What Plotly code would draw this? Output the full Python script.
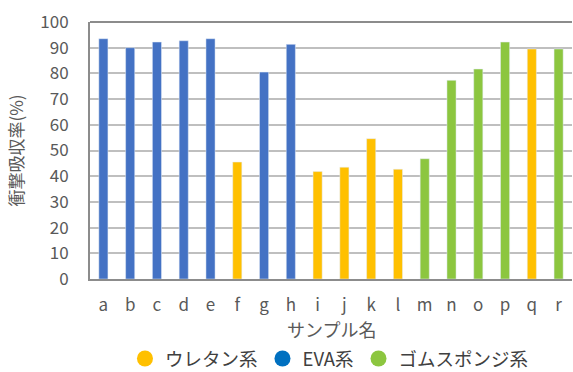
import plotly.graph_objects as go

samples = list("abcdefghijklmnopqr")
absorption = [93.5, 90.0, 92.2, 92.7, 93.5, 45.5, 80.5, 91.3, 41.8, 43.5,
              54.6, 42.7, 46.8, 77.3, 81.7, 92.2, 89.5, 89.5]
groups = ["EVA系", "EVA系", "EVA系", "EVA系", "EVA系", "ウレタン系", "EVA系", "EVA系",
          "ウレタン系", "ウレタン系", "ウレタン系", "ウレタン系", "ゴムスポンジ系",
          "ゴムスポンジ系", "ゴムスポンジ系", "ゴムスポンジ系", "ウレタン系", "ゴムスポンジ系"]
legend_order = ["ウレタン系", "EVA系", "ゴムスポンジ系"]
bar_colors = {"ウレタン系": "#FFC000", "EVA系": "#4472C4", "ゴムスポンジ系": "#8CC63F"}
legend_colors = {"ウレタン系": "#FFC000", "EVA系": "#0070C0", "ゴムスポンジ系": "#8CC63F"}
x_title = "サンプル名"
y_title = "衝撃吸収率(%)"

FONT = "Noto Sans CJK JP"
GRAY = "#595959"

fig = go.Figure()
for g in legend_order:
    xs = [s for s, gg in zip(samples, groups) if gg == g]
    ys = [v for v, gg in zip(absorption, groups) if gg == g]
    fig.add_trace(go.Bar(x=xs, y=ys, name=g, marker_color=bar_colors[g],
                         width=0.34, showlegend=False))
    # legend entry with a round marker
    fig.add_trace(go.Scatter(x=[None], y=[None], mode="markers", name=g,
                             marker=dict(symbol="circle", size=16, color=legend_colors[g])))

fig.update_layout(
    width=573, height=372,
    margin=dict(l=90, r=1, t=22, b=93),
    paper_bgcolor="white", plot_bgcolor="white",
    barmode="overlay",
    font=dict(family=FONT, color=GRAY, size=17),
    legend=dict(orientation="h", x=0.575, xref="container", xanchor="center",
                y=0.035, yref="container", yanchor="middle",
                font=dict(size=18.5, color="#404040"), itemwidth=30,
                traceorder="normal"),
    xaxis=dict(type="category", categoryorder="array", categoryarray=samples,
               showline=True, linecolor="#8c8c8c", linewidth=2, mirror=False,
               automargin=False,
               ticks="", ticklabelstandoff=10, tickfont=dict(size=17)),
    yaxis=dict(range=[0, 100], dtick=10, showgrid=True, gridcolor="#bfbfbf", gridwidth=1.5,
               showline=True, linecolor="#8c8c8c", linewidth=2,
               automargin=False,
               ticks="", ticklabelstandoff=16, tickfont=dict(size=17),
               zeroline=False,
               title=dict(text=y_title, font=dict(size=17), standoff=12)),
)
# x-axis title placed below the tick labels
fig.add_annotation(text=x_title, xref="paper", yref="paper", x=0.5, y=0,
                   xanchor="center", yanchor="middle", yshift=-50,
                   showarrow=False, font=dict(size=18, color=GRAY))
# top frame line
fig.add_shape(type="line", xref="paper", yref="paper", x0=0, x1=1, y0=1, y1=1,
              line=dict(color="#8c8c8c", width=2))

fig.write_html("out.html")
